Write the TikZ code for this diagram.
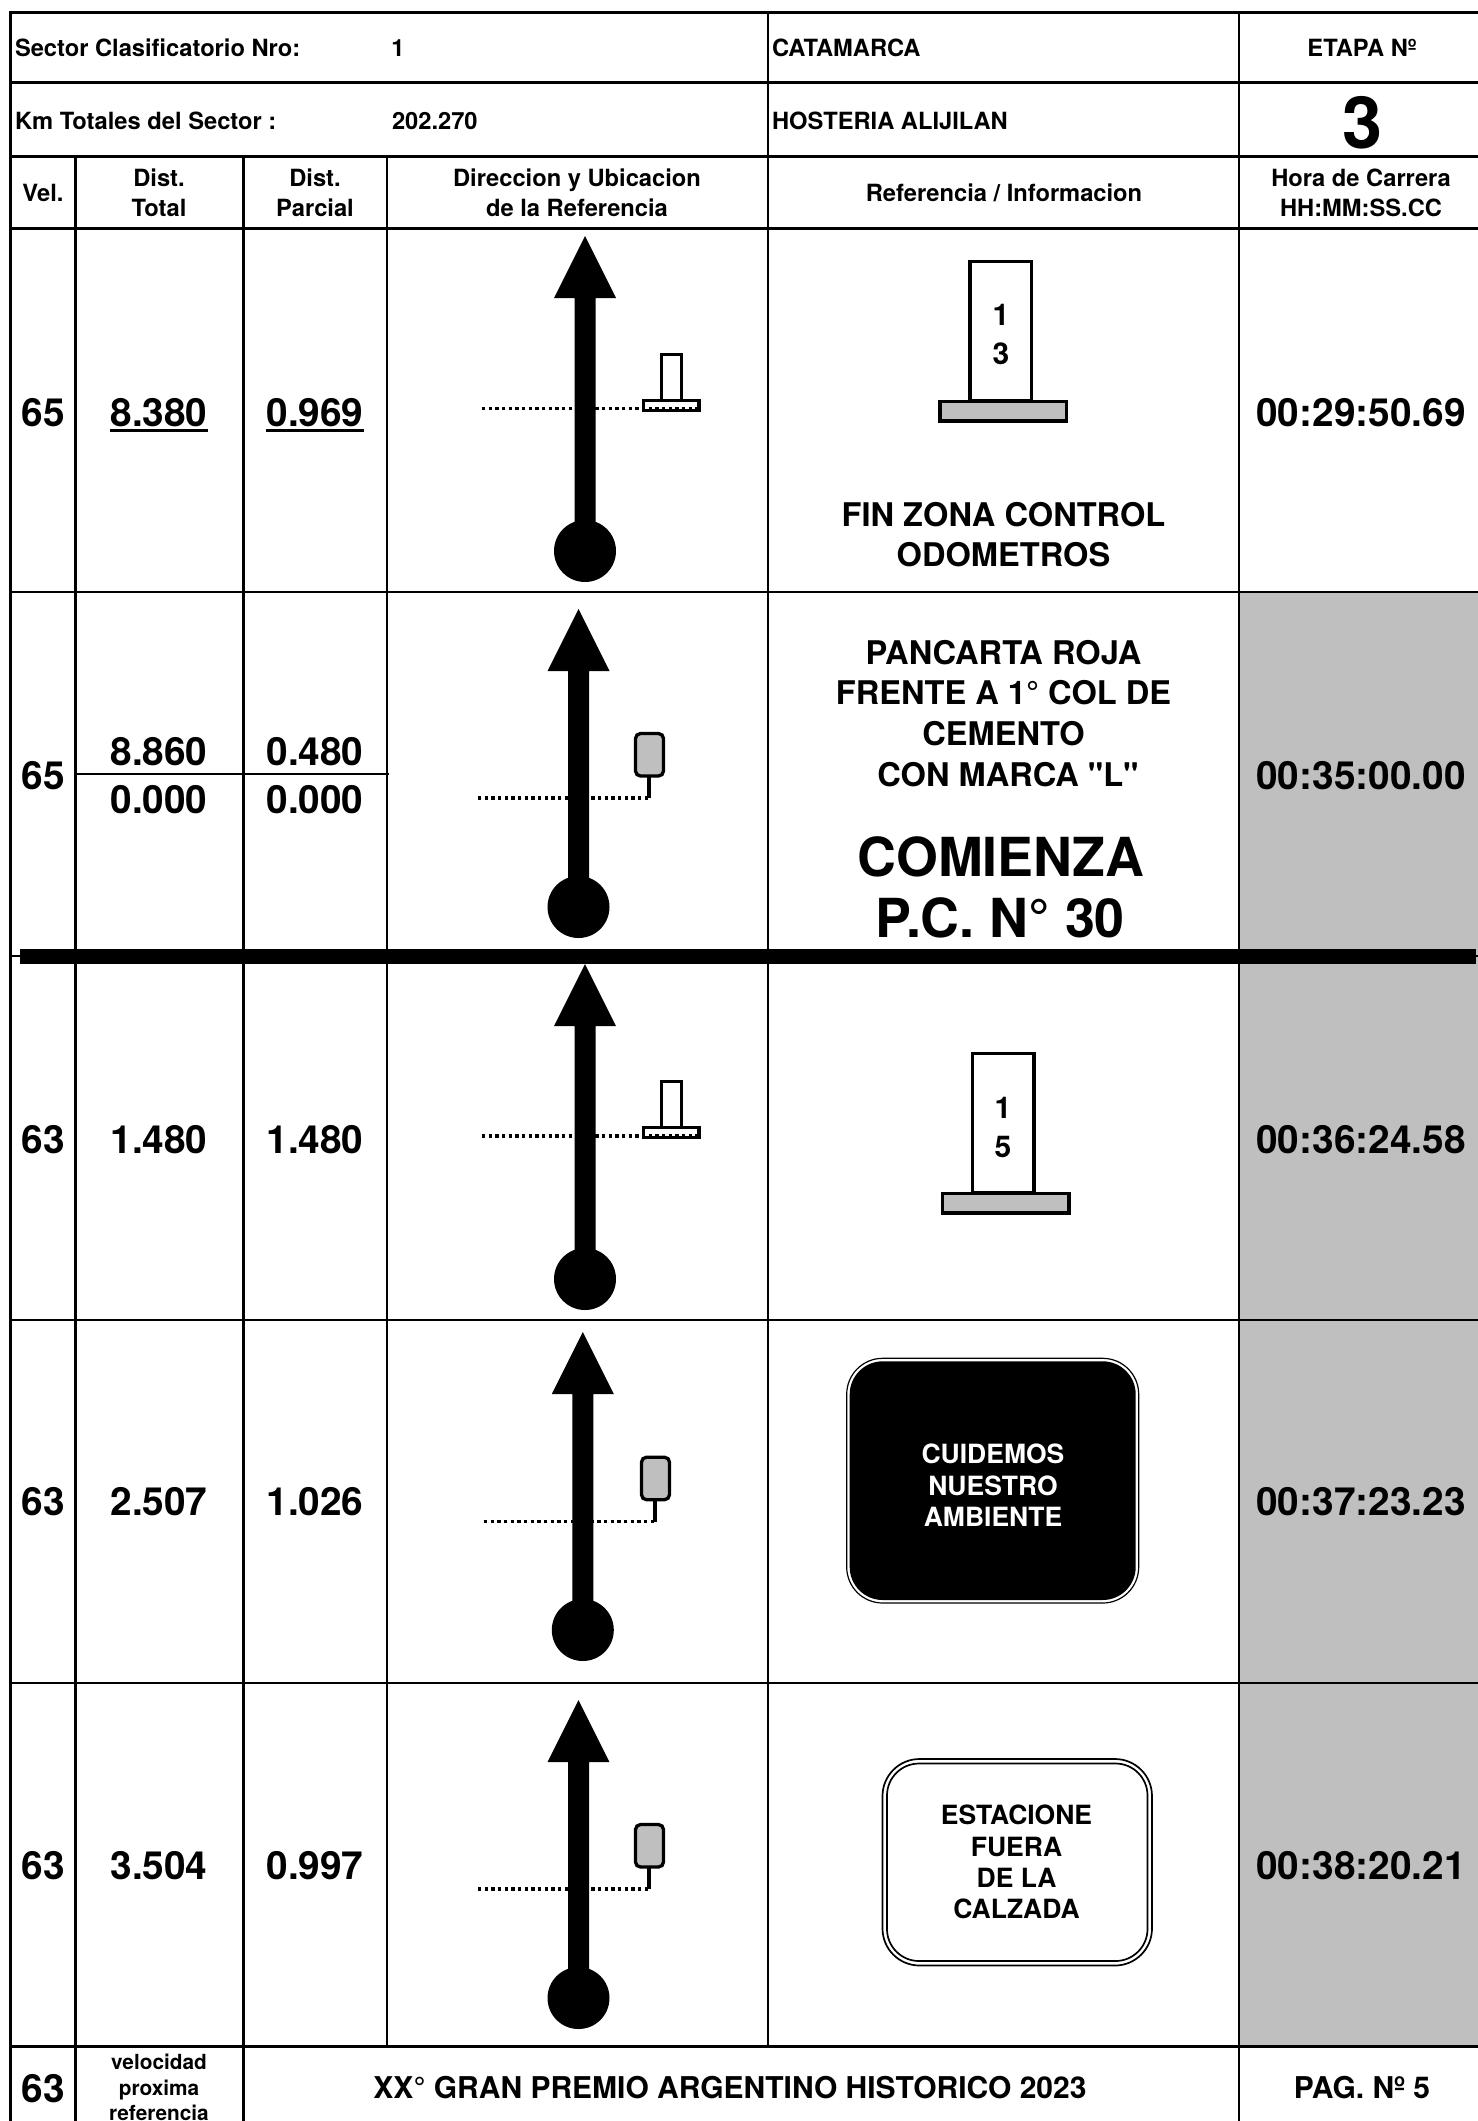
\documentclass[tikz,border=0pt]{standalone}
\usepackage{fontspec}
\setmainfont{TeX Gyre Heros}
\newfontfamily\plainheros{TeX Gyre Heros}
\definecolor{cellgray}{HTML}{BFBFBF}
\tikzset{
  gridh/.style={line width=3pt,black},
  gridv/.style={line width=2.4pt,black},
  mark line/.style={line width=3.3pt,black},
  dotline/.style={line width=3.2pt,black,dash pattern=on 3.3pt off 3.37pt},
  txt/.style={inner sep=0pt,outer sep=0pt,text depth=0pt,font=\fontsize{#1}{#1}\selectfont\bfseries,text height=0.745*#1 pt},
  lft/.style={txt=#1,anchor=west},
}
\newcommand{\rallyarrow}[3]{%
  \fill[black] (#1-31,#2+62) -- (#1,#2) -- (#1+31,#2+62) -- (#1+10.5,#2+62) -- (#1+10.5,#3) -- (#1-10.5,#3) -- (#1-10.5,#2+62) -- cycle;
  \fill[black] (#1,#3) circle [radius=31];
}
\newcommand{\tmark}[2]{% x of post left, y of dotted line
  \draw[dotline] (#1-178,#2) -- (#1+40,#2);
  \draw[mark line] (#1+1.5,#2-10) -- (#1+1.5,#2-54.5) -- (#1+21.5,#2-54.5) -- (#1+21.5,#2-10);
  \draw[mark line] (#1-16.5,#2-8.5) rectangle (#1+39,#2+1.5);
}
\newcommand{\rmark}[2]{% x of stem, y of dotted line
  \draw[dotline] (#1-171,#2) -- (#1,#2);
  \draw[mark line] (#1,#2) -- (#1,#2-21);
  \draw[mark line,fill=cellgray,rounded corners=5pt] (#1-13.5,#2-22) rectangle (#1+14.5,#2-64.5);
}
\newcommand{\bigpost}[2]{% x of post left, y of top
  \draw[mark line,fill=white] (#1+1.5,#2+1.5) rectangle (#1+63,#2+141);
  \draw[mark line,fill=cellgray] (#1-28.5,#2+141.5) rectangle (#1+98,#2+161);
}
\begin{document}
\begin{tikzpicture}[x=1pt,y=-1pt]
\useasboundingbox (0,0) rectangle (1478,2121);
\fill[white] (0,0) rectangle (1478,2121);
% gray cells
\fill[cellgray] (1239,592) rectangle (1478,2046);
% horizontal rules
\draw[gridh] (9,12) -- (1478,12);
\draw[gridh] (9,82.7) -- (1478,82.7);
\draw[gridh] (9,156) -- (1478,156);
\draw[gridh] (9,228) -- (1478,228);
\draw[gridh,line width=2.4pt] (9,592) -- (1478,592);
\draw[gridh,line width=2.4pt] (9,1320) -- (1478,1320);
\draw[gridh,line width=2.4pt] (9,1683) -- (1478,1683);
\draw[gridh] (9,2046) -- (1478,2046);
\draw[gridh,line width=2.4pt] (9,956) -- (30,956);
\draw[gridh,line width=2.4pt] (1470,956) -- (1478,956);
\draw[gridh,line width=2pt] (75.5,774) -- (389,774);
% vertical rules
\draw[gridh,line width=3.4pt] (10.5,10.5) -- (10.5,2121);
\draw[gridv] (75.5,156) -- (75.5,2121);
\draw[gridv] (243.5,156) -- (243.5,2121);
\draw[gridv] (387,156) -- (387,2046);
\draw[gridv,line width=2.8pt] (768,12) -- (768,2046);
\draw[gridv,line width=2.8pt] (1239,12) -- (1239,2121);
% bar
\fill[black] (20,949) rectangle (1476,964);
% header
\node[lft=23.7] (h1) at (15,47.5) {Sector Clasificatorio Nro:};
\node[txt=23.7] (h1v) at (398,47.5) {1};
\node[lft=23.7] (h2) at (15,120.5) {Km Totales del Sector :};
\node[lft=23.7] (h2v) at (392,120.5) {202.270};
\node[lft=23.7] (h3) at (772,47.5) {CATAMARCA};
\node[lft=23.7] (h4) at (772,120.5) {HOSTERIA ALIJILAN};
\node[txt=23.7] (h5) at (1362,47.5) {ETAPA Nº};
\node[txt=72] (h6) at (1363,122) {3};
\node[txt=23.7] (c1) at (43,193) {Vel.};
\node[txt=23.7] (c2a) at (159,178) {Dist.};
\node[txt=23.7] (c2b) at (159,208) {Total};
\node[txt=23.7] (c3a) at (315,178) {Dist.};
\node[txt=23.7] (c3b) at (315,208) {Parcial};
\node[txt=23.7] (c4a) at (577,178) {Direccion y Ubicacion};
\node[txt=23.7] (c4b) at (577,208) {de la Referencia};
\node[txt=23.7] (c5) at (1004,193) {Referencia / Informacion};
\node[txt=23.7] (c6a) at (1361,178) {Hora de Carrera};
\node[txt=23.7] (c6b) at (1361,208) {HH:MM:SS.CC};
% row 1
\node[txt=38.8] (v1) at (43.5,412) {65};
\node[txt=38.8] (t1) at (159,412) {8.380};
\node[txt=38.8] (p1) at (315,412) {0.969};
\draw[line width=3pt] (110,430) -- (208,430);
\draw[line width=3pt] (266,430) -- (364,430);
\tmark{660}{408.7}
\rallyarrow{585}{236}{551}
\bigpost{968.5}{260}
\node[txt=30] (n1a) at (1001,314.5) {1};
\node[txt=30] (n1b) at (1001,353.5) {3};
\node[txt=32.6] (r1a) at (1003.5,514) {FIN ZONA CONTROL};
\node[txt=32.6] (r1b) at (1003.5,554.5) {ODOMETROS};
\node[txt=38.8] (c1t) at (1361,412) {00:29:50.69};
% row 2
\node[txt=38.8] (v2) at (43.5,775) {65};
\node[txt=38.8] (t2a) at (159,751) {8.860};
\node[txt=38.8] (t2b) at (159,799.5) {0.000};
\node[txt=38.8] (p2a) at (315,751) {0.480};
\node[txt=38.8] (p2b) at (315,799.5) {0.000};
\rmark{649}{798}
\rallyarrow{578.5}{609}{907}
\node[txt=32.6] (r2a) at (1003.5,652) {PANCARTA ROJA};
\node[txt=32.6] (r2b) at (1003.5,692.5) {FRENTE A 1° COL DE};
\node[txt=32.6] (r2c) at (1003.5,733) {CEMENTO};
\node[txt=32.6] (r2d) at (1008,774) {\plainheros\bfseries CON MARCA "L"};
\node[txt=53.8] (r2e) at (1001,856) {COMIENZA};
\node[txt=53.8] (r2f) at (1000,917) {P.C. N° 30};
\node[txt=38.8] (c2t) at (1361,775) {00:35:00.00};
% row 3
\node[txt=38.8] (v3) at (43.5,1139) {63};
\node[txt=38.8] (t3) at (159,1139) {1.480};
\node[txt=38.8] (p3) at (315,1139) {1.480};
\tmark{660}{1136}
\rallyarrow{585}{964}{1279}
\bigpost{971}{1052}
\node[txt=30] (n3a) at (1003,1107.5) {1};
\node[txt=30] (n3b) at (1003,1146) {5};
\node[txt=38.8] (c3t) at (1361,1139) {00:36:24.58};
% row 4
\node[txt=38.8] (v4) at (43.5,1501) {63};
\node[txt=38.8] (t4) at (159,1501) {2.507};
\node[txt=38.8] (p4) at (315,1501) {1.026};
\rmark{655}{1521.7}
\rallyarrow{582.8}{1332}{1630}
\draw[black,line width=1.2pt,rounded corners=36pt] (846.7,1358.3) rectangle (1138.7,1603);
\fill[black,rounded corners=33pt] (849.7,1361.3) rectangle (1135.7,1600);
\node[txt=26.5,white] (r4a) at (993,1454) {CUIDEMOS};
\node[txt=26.5,white] (r4b) at (993,1485.5) {NUESTRO};
\node[txt=26.5,white] (r4c) at (993,1516.5) {AMBIENTE};
\node[txt=38.8] (c4t) at (1361,1501) {00:37:23.23};
% row 5
\node[txt=38.8] (v5) at (43.5,1865) {63};
\node[txt=38.8] (t5) at (159,1865) {3.504};
\node[txt=38.8] (p5) at (315,1865) {0.997};
\rmark{649}{1889}
\rallyarrow{578.5}{1700}{1998}
\draw[black,line width=1.7pt,rounded corners=37pt] (882.5,1759) rectangle (1152,1965.5);
\draw[black,line width=1.7pt,rounded corners=32pt] (887,1763.5) rectangle (1147.5,1961);
\node[txt=26.5] (r5a) at (1016.5,1815) {ESTACIONE};
\node[txt=26.5] (r5b) at (1016.5,1846.5) {FUERA};
\node[txt=26.5] (r5c) at (1016.5,1877.5) {DE LA};
\node[txt=26.5] (r5d) at (1016.5,1908.5) {CALZADA};
\node[txt=38.8] (c5t) at (1361,1865) {00:38:20.21};
% footer
\node[txt=38.8] (fv) at (43.5,2088.5) {63};
\node[txt=20.8] (f1) at (159,2061.5) {velocidad};
\node[txt=20.8] (f2) at (159,2088) {proxima};
\node[txt=20.8] (f3) at (159,2113) {referencia};
\node[txt=30] (f4) at (730,2087) {XX° GRAN PREMIO ARGENTINO HISTORICO 2023};
\node[txt=30] (f5) at (1362,2087) {PAG. Nº 5};
\end{tikzpicture}
\end{document}
